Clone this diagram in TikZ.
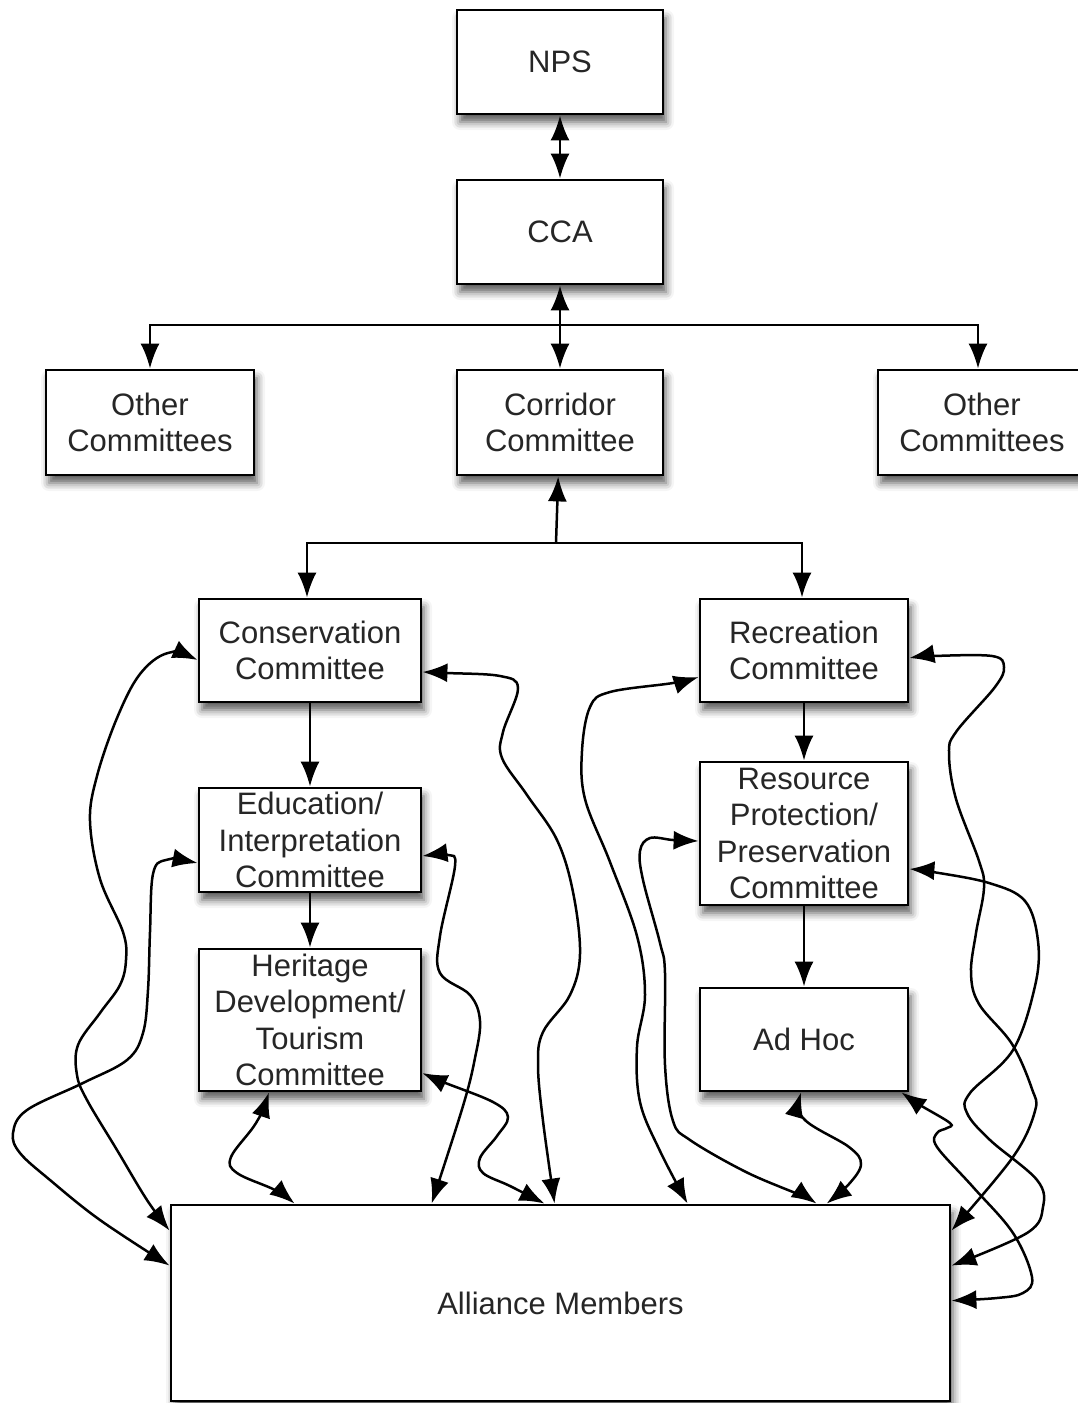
\documentclass[tikz,border=0pt]{standalone}
\usepackage{fontspec}
\setmainfont{Liberation Sans}
\usetikzlibrary{arrows.meta,shadows.blur}

\tikzstyle{org}=[draw, line width=2.8pt, fill=white, align=center, inner sep=0pt,
  font=\fontsize{31}{36.5}\selectfont, text=black!85,
  blur shadow={shadow xshift=3pt, shadow yshift=-8pt, shadow blur radius=8pt, shadow opacity=65}]
\tikzstyle{arrow}=[line width=2.5pt, -{Latex[length=25pt,width=19pt]}]
\tikzstyle{both}=[line width=2.5pt, {Latex[length=25pt,width=19pt]}-{Latex[length=25pt,width=19pt]}]

\begin{document}
\begin{tikzpicture}[x=1pt, y=-1pt]
  \useasboundingbox (0,0) rectangle (1078,1403);

  \node[org, minimum width=206pt, minimum height=104pt] (nps) at (560,62) {NPS};
  \node[org, minimum width=206pt, minimum height=104pt] (cca) at (560,232) {CCA};
  \node[org, minimum width=208pt, minimum height=105pt] (otherL) at (150,422.5) {Other\\Committees};
  \node[org, minimum width=206pt, minimum height=105pt] (corr) at (560,422.5) {Corridor\\Committee};
  \node[org, minimum width=208pt, minimum height=105pt] (otherR) at (982,422.5) {Other\\Committees};

  \node[org, minimum width=222pt, minimum height=103pt] (cons) at (310,650.5) {Conservation\\Committee};
  \node[org, minimum width=222pt, minimum height=104pt] (edu) at (310,840) {Education/\\Interpretation\\Committee};
  \node[org, minimum width=222pt, minimum height=142pt] (her) at (310,1020) {Heritage\\Development/\\Tourism\\Committee};

  \node[org, minimum width=208pt, minimum height=103pt] (rec) at (804,650.5) {Recreation\\Committee};
  \node[org, minimum width=208pt, minimum height=143pt] (res) at (804,833.5) {Resource\\Protection/\\Preservation\\Committee};
  \node[org, minimum width=208pt, minimum height=103pt] (adhoc) at (804,1039.5) {Ad Hoc};

  \node[org, minimum width=779pt, minimum height=196pt] (all) at (560.5,1303) {Alliance Members};

  % tree
  \draw[both] (nps) -- (cca);
  \draw[both] (cca) -- (corr);
  \coordinate (branch) at (560,325);
  \draw[arrow] (branch) -| (otherL);
  \draw[arrow] (branch) -| ([xshift=-4pt]otherR.north);
  \coordinate (split) at (556,543);
  \draw[arrow] (split) -- (corr);
  \draw[arrow] (split) -| ([xshift=-3pt]cons.north);
  \draw[arrow] (split) -| ([xshift=-2pt]rec.north);

  \draw[arrow] (cons) -- (edu);
  \draw[arrow] (edu) -- (her);
  \draw[arrow] (rec) -- (res);
  \draw[arrow] (res) -- (adhoc);

  % links down to the members
  \draw[both] plot[smooth, tension=0.6] coordinates {([yshift=-9.5pt]cons.west) (168,653) (140,674) (117,718) (97,776) (90,821) (100,879) (123,932) (126,960) (120,985) (100,1013) (78,1045) (77,1075) (87,1100) (117,1150) (147,1200) ([yshift=-27pt]all.north west)};
  \draw[both] plot[smooth, tension=0.6] coordinates {([yshift=-23pt]edu.west) (166,860) (153,874) (150,932) (148,990) (143,1033) (127,1060) (83,1083) (27,1110) (13,1133) (20,1153) (50,1180) (100,1220) ([yshift=-62pt]all.north west)};
  \draw[both] plot[smooth, tension=0.6] coordinates {([yshift=-21.5pt]cons.east) (447,673) (500,676) (518,688) (503,732) (502,758) (527,795) (557,840) (573,892) (580,954) (570,995) (543,1032) (538,1065) (543,1121) ([xshift=385pt]all.north west)};
  \draw[both] plot[smooth, tension=0.6] coordinates {([yshift=-16pt]edu.east) (448,855) (455,866) (440,936) (440,973) (470,995) (480,1021) (475,1058) (463,1106) ([xshift=262pt]all.north west)};
  \draw[both] plot[smooth, tension=0.6] coordinates {([yshift=-53pt]her.east) (443,1082) (493,1102) (508,1117) (497,1136) (480,1158) (483,1173) (510,1186) ([xshift=375pt]all.north west)};
  \draw[both] plot[smooth, tension=0.6] coordinates {([xshift=-41pt]her.south) (256,1123) (231,1157) (237,1173) (275,1190) ([xshift=125pt]all.north west)};

  \draw[both] plot[smooth, tension=0.6] coordinates {([yshift=-26.5pt]rec.west) (673,683) (610,692) (590,707) (582,751) (585,799) (610,862) (637,936) (645,995) (637,1047) (640,1102) (660,1151) ([xshift=518pt]all.north west)};
  \draw[both] plot[smooth, tension=0.6] coordinates {([yshift=-7.5pt]res.west) (673,840) (650,838) (640,851) (643,880) (660,943) (665,973) (665,1065) (673,1121) (690,1140) (746,1172) (800,1195) ([xshift=647pt]all.north west)};
  \draw[both] plot[smooth, tension=0.6] coordinates {([xshift=-3pt]adhoc.south) (804,1119) (849,1147) (861,1164) (849,1184) ([xshift=657pt]all.north west)};

  \draw[both] plot[smooth, tension=0.6] coordinates {([yshift=-7.5pt]rec.east) (933,656) (992,656) (1004,667) (995,687) (956,732) (949,754) (956,799) (979,861) (984,888) (976,933) (971,973) (979,1004) (1012,1044) (1032,1089) (1035,1111) (1013,1157) ([yshift=-27pt]all.north east)};
  \draw[both] plot[smooth, tension=0.6] coordinates {([yshift=-35.5pt]res.east) (933,872) (989,883) (1025,901) (1038,941) (1035,986) (1013,1050) (970,1093) (967,1113) (990,1140) (1037,1180) (1043,1207) (1027,1233) ([yshift=-62pt]all.north east)};
  \draw[both] plot[smooth, tension=0.6] coordinates {([xshift=-8pt]adhoc.south east) (920,1105) (950,1123) (947,1128) (937,1133) (937,1147) (973,1187) (1013,1233) (1032,1277) (1023,1293) (997,1298) ([yshift=-97pt]all.north east)};
\end{tikzpicture}
\end{document}
